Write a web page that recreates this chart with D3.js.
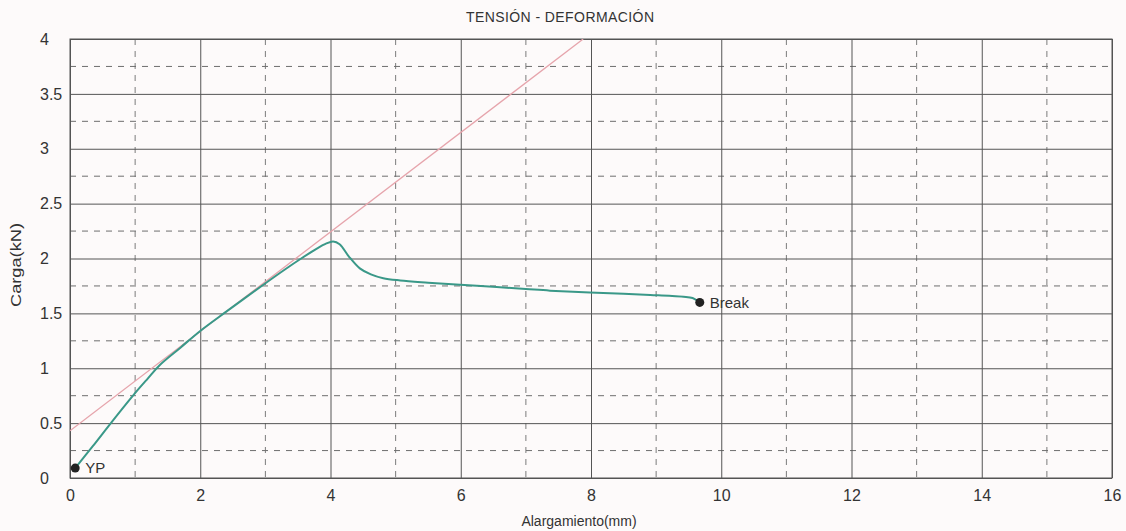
<!DOCTYPE html>
<html>
<head>
<meta charset="utf-8">
<script src="https://cdn.jsdelivr.net/npm/d3@7"></script>
<style>
  html, body { margin: 0; padding: 0; background: #fdfafa; }
  svg { display: block; font-family: "Liberation Sans", Arial, sans-serif; }
</style>
</head>
<body>
<div id="chart"><svg width="1126" height="531"></svg></div>
<script>
// curve: elongation (mm) and load (kN)
var elongation = [0.08, 0.35, 0.64, 0.98, 1.2, 1.38, 1.7, 2.0, 2.41, 2.99, 3.3, 3.55, 3.79, 3.93, 4.04, 4.14, 4.28, 4.45, 4.62, 4.81, 5.07, 5.5, 5.99, 6.55, 7.0, 7.37, 7.98, 8.5, 8.91, 9.2, 9.42, 9.56, 9.67];
var load = [0.09, 0.29, 0.51, 0.76, 0.91, 1.03, 1.19, 1.34, 1.52, 1.77, 1.9, 2.0, 2.09, 2.135, 2.155, 2.13, 2.02, 1.91, 1.855, 1.82, 1.8, 1.78, 1.76, 1.74, 1.722, 1.707, 1.69, 1.678, 1.667, 1.66, 1.652, 1.64, 1.6];
// elastic (modulus) line
var modulusX = [0, 7.88];
var modulusY = [0.43, 4.0];
// marked points
var markerNames = ['YP', 'Break'];
var markerX = [0.08, 9.67];
var markerY = [0.09, 1.6];
// axis ticks
var xMajor = [0, 2, 4, 6, 8, 10, 12, 14, 16];
var xMinor = [1, 3, 5, 7, 9, 11, 13, 15];
var yMajor = [0, 0.5, 1, 1.5, 2, 2.5, 3, 3.5, 4];
var yMinor = [0.25, 0.75, 1.25, 1.75, 2.25, 2.75, 3.25, 3.75];

(function() {
    var svg = d3.select('div#chart svg'),
    margin = {top: 39, right: 14, bottom: 53, left: 70},
    width = 1126 - margin.left - margin.right,
    height = 531 - margin.top - margin.bottom,
    x = d3.scaleLinear().domain([0, 16]).range([0, width]),
    y = d3.scaleLinear().domain([0, 4]).range([height, 0]),
    g;

    g = svg.append('g').attr('transform', 'translate(' + margin.left + ',' + margin.top + ')');

    // dashed minor grid
    g.append('g').selectAll('line.vminor').data(xMinor).enter().append('line')
	.attr('x1', function(d) { return x(d); }).attr('x2', function(d) { return x(d); })
	.attr('y1', 0).attr('y2', height)
	.attr('stroke', '#7c7c7c').attr('stroke-width', 1).attr('stroke-dasharray', '6,6');
    g.append('g').selectAll('line.hminor').data(yMinor).enter().append('line')
	.attr('y1', function(d) { return y(d); }).attr('y2', function(d) { return y(d); })
	.attr('x1', 0).attr('x2', width)
	.attr('stroke', '#6e6e6e').attr('stroke-width', 1).attr('stroke-dasharray', '6,6');

    // solid major grid via axes
    var xAxis = g.append('g').attr('transform', 'translate(0,' + height + ')')
	.call(d3.axisBottom(x).tickValues(xMajor).tickSize(-height).tickPadding(12).tickFormat(d3.format('d')));
    var yAxis = g.append('g')
	.call(d3.axisLeft(y).tickValues(yMajor).tickSize(-width).tickPadding(0).tickFormat(d3.format('')));
    [xAxis, yAxis].forEach(function(a) {
	a.select('.domain').remove();
	a.selectAll('line').attr('stroke', '#555').attr('stroke-width', 1);
	a.selectAll('text').attr('fill', '#333').style('font-size', '16px')
	    .style('font-family', '"Liberation Sans", Arial, sans-serif');
    });
    yAxis.selectAll('text').attr('text-anchor', 'start').attr('x', -30);

    // axis frame
    g.append('rect').attr('x', 0).attr('y', 0).attr('width', width).attr('height', height)
	.attr('fill', 'none').attr('stroke', '#555').attr('stroke-width', 1);

    // elastic line, clipped to the plot
    svg.append('clipPath').attr('id', 'clip').append('rect')
	.attr('width', width).attr('height', height);
    g.append('path')
	.datum(d3.zip(modulusX, modulusY))
	.attr('clip-path', 'url(#clip)')
	.attr('fill', 'none').attr('stroke', '#e6a4ac').attr('stroke-width', 1.3)
	.attr('d', d3.line().x(function(d) { return x(d[0]); }).y(function(d) { return y(d[1]); }));

    // load curve
    g.append('path')
	.datum(d3.zip(elongation, load))
	.attr('fill', 'none').attr('stroke', '#3a9888').attr('stroke-width', 2)
	.attr('d', d3.line().curve(d3.curveCatmullRom.alpha(0.5))
	    .x(function(d) { return x(d[0]); }).y(function(d) { return y(d[1]); }));

    // markers
    var marks = g.append('g').selectAll('g').data(d3.zip(markerNames, markerX, markerY)).enter().append('g')
	.attr('transform', function(d) { return 'translate(' + x(d[1]) + ',' + y(d[2]) + ')'; });
    marks.append('circle').attr('r', 4.5).attr('fill', '#222');
    marks.append('text').attr('x', 10).attr('dy', '0.35em')
	.style('font-size', '15px').attr('fill', '#333')
	.text(function(d) { return d[0]; });

    // titles
    svg.append('text').attr('x', 560).attr('y', 22).attr('text-anchor', 'middle')
	.style('font-size', '14px').attr('fill', '#333').attr('textLength', 188)
	.text('TENSIÓN - DEFORMACIÓN');
    svg.append('text').attr('x', 579).attr('y', 526).attr('text-anchor', 'middle')
	.style('font-size', '14px').attr('fill', '#333')
	.text('Alargamiento(mm)');
    svg.append('text').attr('transform', 'translate(21,265) rotate(-90)').attr('text-anchor', 'middle')
	.style('font-size', '14px').attr('fill', '#333').attr('textLength', 84).attr('lengthAdjust', 'spacingAndGlyphs')
	.text('Carga(kN)');
}).call(this);
</script>
</body>
</html>
